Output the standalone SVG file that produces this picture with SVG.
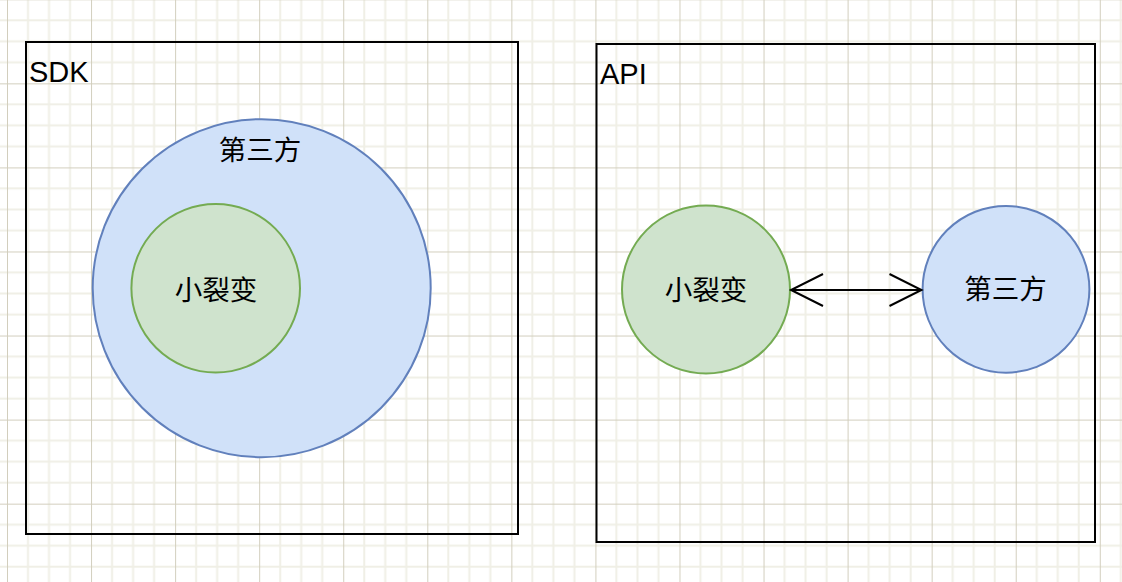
<svg xmlns="http://www.w3.org/2000/svg" width="1122" height="582" viewBox="0 0 1122 582">
  <style>
    .box { fill: none; stroke: #000000; stroke-width: 2; }
    .blue { fill: #d0e1f9; stroke: #6180bc; stroke-width: 2; }
    .green { fill: #cfe3cd; stroke: #74ab52; stroke-width: 2; }
    .lbl { font-family: "Liberation Sans", Arial, sans-serif; font-size: 29px; fill: #000000; }
    .cjk { font-family: "Noto Sans CJK SC", "Noto Sans CJK JP", sans-serif; font-size: 27.5px; fill: #000000; text-anchor: middle; dominant-baseline: central; }
    .conn { fill: none; stroke: #000000; stroke-width: 2; }
  </style>
  <defs>
    <pattern id="grid" patternUnits="userSpaceOnUse" x="7" y="-0.7" width="84.06" height="84.06">
      <path d="M21.015,0V84.06M42.03,0V84.06M63.045,0V84.06M0,21.015H84.06M0,42.03H84.06M0,63.045H84.06" stroke="#f0efe6" stroke-width="2" fill="none"/>
      <path d="M0.5,0V84.06M0,0.5H84.06" stroke="#d2cebd" stroke-width="1" fill="none"/>
    </pattern>
    <marker id="open" markerUnits="userSpaceOnUse" viewBox="-2 -2 36 36" refX="32" refY="16" markerWidth="36" markerHeight="36" orient="auto-start-reverse" overflow="visible">
      <path d="M0,0 L32,16 L0,32" fill="none" stroke="#000000" stroke-width="2"/>
    </marker>
  </defs>
  <rect x="0" y="0" width="1122" height="582" fill="#ffffff"/>
  <rect x="0" y="0" width="1122" height="582" fill="url(#grid)"/>

  <g id="sdk">
    <rect class="box" x="26" y="42" width="492" height="492"/>
    <text class="lbl" x="29" y="82">SDK</text>
  </g>
  <g id="sdk-third">
    <circle class="blue" cx="261.7" cy="288.2" r="169"/>
    <text class="cjk" x="260" y="148">第三方</text>
  </g>
  <g id="sdk-xlb">
    <circle class="green" cx="215.7" cy="288.2" r="84.3"/>
    <text class="cjk" x="216" y="288">小裂变</text>
  </g>

  <g id="api">
    <rect class="box" x="596.5" y="44" width="498.5" height="498"/>
    <text class="lbl" x="600" y="84">API</text>
  </g>
  <g id="api-xlb">
    <circle class="green" cx="706" cy="289.5" r="84"/>
    <text class="cjk" x="706" y="288">小裂变</text>
  </g>
  <g id="api-third">
    <circle class="blue" cx="1006" cy="289.3" r="83.4"/>
    <text class="cjk" x="1005.5" y="287">第三方</text>
  </g>

  <g id="connectors">
    <line class="conn" x1="791" y1="290" x2="921.5" y2="290" marker-start="url(#open)" marker-end="url(#open)"/>
  </g>
</svg>
